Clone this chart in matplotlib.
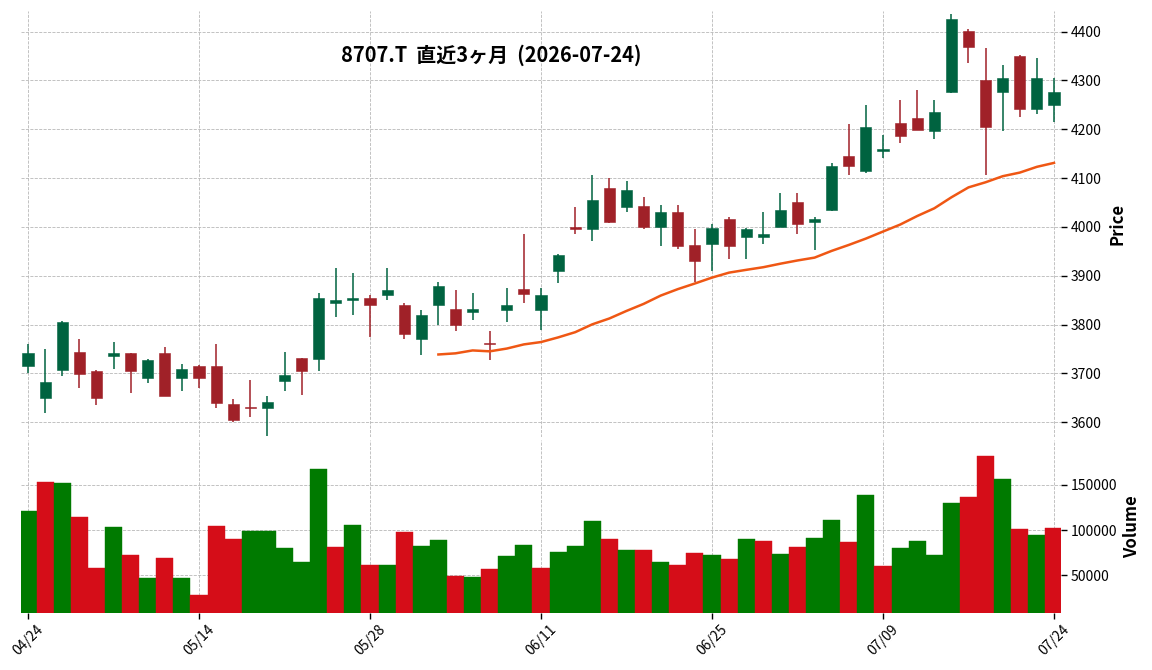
import numpy as np
import pandas as pd
import matplotlib
matplotlib.use('Agg')
import matplotlib.pyplot as plt

plt.rcParams['font.family'] = ['Noto Sans CJK JP', 'DejaVu Sans']

# ============= Data (8707.T, last 3 months)
title = '8707.T  直近3ヶ月  (2026-07-24)'
dates = ['04/24', '04/27', '04/28', '04/30', '05/01', '05/07', '05/08', '05/11', '05/12', '05/13',
         '05/14', '05/15', '05/18', '05/19', '05/20', '05/21', '05/22', '05/25', '05/26', '05/27',
         '05/28', '05/29', '06/01', '06/02', '06/03', '06/04', '06/05', '06/08', '06/09', '06/10',
         '06/11', '06/12', '06/15', '06/16', '06/17', '06/18', '06/19', '06/22', '06/23', '06/24',
         '06/25', '06/26', '06/29', '06/30', '07/01', '07/02', '07/03', '07/06', '07/07', '07/08',
         '07/09', '07/10', '07/13', '07/14', '07/15', '07/16', '07/17', '07/21', '07/22', '07/23',
         '07/24']
opens = [3715, 3650, 3708, 3745, 3706, 3735, 3741, 3690, 3741, 3690,
         3716, 3716, 3637, 3631, 3629, 3684, 3731, 3730, 3844, 3850,
         3855, 3860, 3841, 3771, 3840, 3831, 3826, 3761, 3829, 3873,
         3829, 3910, 4000, 3995, 4080, 4040, 4042, 3999, 4031, 3962,
         3965, 4017, 3980, 3979, 3999, 4052, 4010, 4034, 4146, 4114,
         4155, 4212, 4222, 4196, 4276, 4401, 4301, 4276, 4350, 4241,
         4249]
highs = [3761, 3750, 3807, 3771, 3707, 3765, 3742, 3730, 3755, 3720,
         3717, 3760, 3647, 3686, 3654, 3744, 3731, 3865, 3916, 3905,
         3860, 3916, 3844, 3829, 3888, 3871, 3865, 3788, 3875, 3986,
         3875, 3945, 4041, 4107, 4100, 4095, 4061, 4045, 4045, 3995,
         4007, 4020, 3997, 4031, 4069, 4069, 4020, 4131, 4210, 4249,
         4189, 4260, 4281, 4260, 4435, 4405, 4366, 4331, 4351, 4346,
         4305]
lows = [3700, 3620, 3695, 3671, 3636, 3710, 3660, 3681, 3653, 3665,
        3671, 3630, 3601, 3610, 3572, 3665, 3655, 3706, 3816, 3820,
        3775, 3850, 3771, 3737, 3799, 3786, 3810, 3727, 3806, 3845,
        3790, 3886, 3986, 3972, 4009, 4031, 3996, 3961, 3955, 3888,
        3910, 3935, 3935, 3966, 3999, 3986, 3952, 4033, 4106, 4111,
        4141, 4171, 4199, 4180, 4275, 4335, 4107, 4197, 4225, 4231,
        4215]
closes = [3741, 3682, 3806, 3699, 3650, 3741, 3705, 3727, 3654, 3710,
          3690, 3640, 3605, 3630, 3641, 3696, 3705, 3854, 3851, 3855,
          3840, 3871, 3780, 3820, 3880, 3799, 3831, 3760, 3841, 3863,
          3861, 3942, 3995, 4056, 4010, 4076, 3999, 4031, 3960, 3930,
          3997, 3960, 3996, 3986, 4035, 4005, 4017, 4125, 4124, 4205,
          4159, 4186, 4199, 4236, 4426, 4369, 4204, 4305, 4241, 4305,
          4277]
volumes = [121500, 152600, 151500, 114800, 58100, 103700, 72600, 47000, 69300, 47000,
           28100, 104800, 90400, 99300, 99300, 80400, 64800, 167000, 81500, 105900,
           61500, 61500, 98100, 82600, 89300, 49300, 48100, 57000, 71500, 83700,
           58100, 75900, 82600, 110400, 90400, 78100, 78100, 64800, 61500, 74800,
           72600, 68100, 90400, 88100, 73700, 81500, 91500, 111500, 87000, 139300,
           60400, 80400, 88100, 72600, 130400, 137000, 181500, 157000, 101500, 94800,
           102600]
mavPeriod = 25
priceTicks = [3600, 3700, 3800, 3900, 4000, 4100, 4200, 4300, 4400]
volumeTicks = [50000, 100000, 150000]

# ============= Style
upColor = '#006340'
downColor = '#A02128'
volUpColor = '#007a00'
volDownColor = '#d50d18'
mavColor = '#ef5714'
gridColor = '#b8b8b8'

df = pd.DataFrame({'Open': opens, 'High': highs, 'Low': lows, 'Close': closes, 'Volume': volumes})
xs = np.arange(len(df))
mav = df['Close'].rolling(mavPeriod).mean()

fig = plt.figure(figsize=(11.52, 6.70), dpi=100)
axP = fig.add_axes([0.01823, 0.34776, 0.90278, 0.63582])
axV = fig.add_axes([0.01823, 0.08552, 0.90278, 0.25776], sharex=axP)

# candles
candleColors = [upColor if c >= o else downColor for o, c in zip(df['Open'], df['Close'])]
axP.vlines(xs, df['Low'], df['High'], colors=candleColors, linewidth=1.1, zorder=3)
bodyLow = np.minimum(df['Open'], df['Close'])
bodyHeight = np.maximum(np.abs(df['Close'] - df['Open']), 1.5)
axP.bar(xs, bodyHeight, bottom=bodyLow, width=0.65, color=candleColors,
        edgecolor=candleColors, linewidth=0.4, zorder=4)
axP.plot(xs, mav, color=mavColor, linewidth=1.8, zorder=5)

# volume, coloured by close vs previous close
prevClose = df['Close'].shift(1)
volColors = [volUpColor if (np.isnan(p) or c >= p) else volDownColor
             for c, p in zip(df['Close'], prevClose)]
axV.bar(xs, df['Volume'], width=1.0, color=volColors, edgecolor=volColors, linewidth=0.3)

axP.set_xlim(-0.41, len(df) - 0.59)
axP.set_ylim(3570, 4442)
axV.set_ylim(0.3 * min(volumes), 1.1 * max(volumes))

for ax in (axP, axV):
    for s in ax.spines.values():
        s.set_visible(False)
    ax.yaxis.tick_right()
    ax.grid(True, linestyle='--', linewidth=0.6, color=gridColor)
    ax.set_axisbelow(True)
    ax.tick_params(axis='y', length=4, width=1, pad=3, labelsize=10)
    ax.tick_params(axis='x', length=4, width=1, pad=3, labelsize=10)

axP.set_yticks(priceTicks)
axV.set_yticks(volumeTicks)
axV.ticklabel_format(axis='y', style='plain')

tickIdx = list(range(0, len(dates), 10))
axV.set_xticks(tickIdx)
axV.set_xticklabels([dates[i] for i in tickIdx], rotation=45, ha='center')
plt.setp(axP.get_xticklabels(), visible=False)
axP.tick_params(axis='x', length=0)

axP.set_ylabel('Price', fontsize=12, fontweight='semibold')
axP.yaxis.set_label_position('right')
axP.yaxis.set_label_coords(1.046, 0.5)
axV.set_ylabel('Volume', fontsize=12, fontweight='semibold')
axV.yaxis.set_label_position('right')
axV.yaxis.set_label_coords(1.0596, 0.5)

fig.text(0.4262, 0.918, title, ha='center', va='center', fontsize=14.4, fontweight='bold')

fig.savefig('out.png', dpi=100)
